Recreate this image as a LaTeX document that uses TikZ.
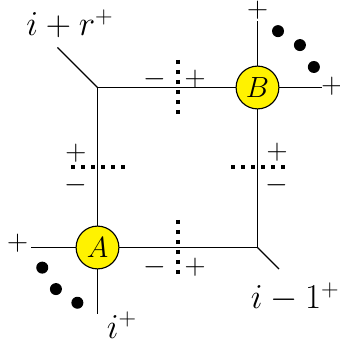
\documentclass[tikz,border=0pt]{standalone}
\usepackage{amsmath,amssymb}
\usepackage{tikz}

\tikzset{
  vertex/.style={circle,draw,fill=yellow,minimum size=1.07cm,inner sep=0pt,font=\huge},
  cut/.style={line width=0.1cm,dash pattern=on 0.1cm off 0.15cm},
  sgn/.style={font=\huge,inner sep=0pt},
  leg/.style={font=\fontsize{24}{28}\selectfont,inner sep=1pt}
}

\begin{document}
\begin{tikzpicture}[line width=0.8pt]
    \useasboundingbox (-2.4375,-2.3875) rectangle (6.0375,6.1875);

    \coordinate (tl) at (0,4);
    \coordinate (br) at (4,0);
    \coordinate (tlout) at (-1,5);
    \coordinate (brout) at (4.54,-0.54);
    \coordinate (aleft) at (-1.66,0);
    \coordinate (adown) at (0,-1.65);
    \coordinate (bright) at (5.62,4);
    \coordinate (bup) at (4,5.65);

    \node[vertex] (A) at (0,0) {$A$};
    \node[vertex] (B) at (4,4) {$B$};

    \draw (tlout)--(tl);
    \draw (tl)--(B);
    \draw (tl)--(A);
    \draw (A)--(br);
    \draw (B)--(br);
    \draw (brout)--(br);
    \draw (aleft)--(A);
    \draw (adown)--(A);
    \draw (B)--(bright);
    \draw (B)--(bup);

    \foreach \ang in {200,225,250}
        \fill (A)++(\ang:1.47) circle (0.15);
    \foreach \ang in {20,45,70}
        \fill (B)++(\ang:1.5) circle (0.15);

    \draw[cut] (2,4.69)--(2,3.34);
    \draw[cut] (-0.66,2)--(0.69,2);
    \draw[cut] (3.34,2)--(4.69,2);
    \draw[cut] (2,0.69)--(2,-0.66);

    \node[sgn] at (1.44,4.21) {$-$};
    \node[sgn] at (2.44,4.21) {$+$};
    \node[sgn] at (1.44,-0.49) {$-$};
    \node[sgn] at (2.44,-0.49) {$+$};
    \node[sgn] at (-0.54,2.36) {$+$};
    \node[sgn] at (-0.54,1.56) {$-$};
    \node[sgn] at (4.49,2.39) {$+$};
    \node[sgn] at (4.49,1.56) {$-$};

    \node[sgn] at (4,5.93) {$+$};
    \node[sgn] at (5.86,4.02) {$+$};
    \node[sgn] at (-2.0,0.1) {$+$};

    \node[leg] at (-0.69,5.59) {$i+r^+$};
    \node[leg] at (4.94,-1.24) {$i-1^+$};
    \node[leg] at (0.61,-1.94) {$i^+$};
\end{tikzpicture}
\end{document}
